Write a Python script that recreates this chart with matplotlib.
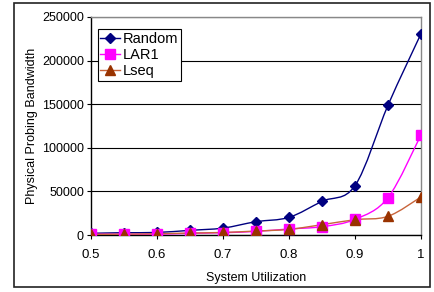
import numpy as np
import matplotlib.pyplot as plt
from matplotlib.path import Path
from matplotlib.patches import PathPatch, Rectangle

plt.rcParams['font.family'] = ['Liberation Sans', 'DejaVu Sans']

# data
utilization = [0.5, 0.55, 0.6, 0.65, 0.7, 0.75, 0.8, 0.85, 0.9, 0.95, 1.0]
random_bw = [2000, 2700, 3000, 5400, 8000, 15300, 20300, 38700, 56700, 149000, 231000]
lar1_bw = [1000, 1000, 1000, 2000, 2700, 4200, 7000, 9600, 18000, 43000, 115000]
lseq_bw = [800, 1000, 1500, 2300, 3000, 4600, 6500, 11900, 17600, 21500, 43700]

series = [
    ("Random", random_bw, "#000080", "#000080", "D", 5),
    ("LAR1", lar1_bw, "#FF00FF", "#FF00FF", "s", 6.5),
    ("Lseq", lseq_bw, "#993300", "#C8643A", "^", 6.5),
]


def smooth_path(x, y):
    # excel-style smoothed line drawn as bezier segments
    x = np.asarray(x, float)
    y = np.asarray(y, float)
    verts = [(x[0], y[0])]
    codes = [Path.MOVETO]
    n = len(x)
    for i in range(n - 1):
        p0 = (x[max(i - 1, 0)], y[max(i - 1, 0)])
        p1 = (x[i], y[i])
        p2 = (x[i + 1], y[i + 1])
        p3 = (x[min(i + 2, n - 1)], y[min(i + 2, n - 1)])
        c1 = (p1[0] + (p2[0] - p0[0]) / 6, p1[1] + (p2[1] - p0[1]) / 6)
        c2 = (p2[0] - (p3[0] - p1[0]) / 6, p2[1] - (p3[1] - p1[1]) / 6)
        verts += [c1, c2, p2]
        codes += [Path.CURVE4] * 3
    return Path(verts, codes)


fig = plt.figure(figsize=(4.35, 2.92), dpi=100)
ax = fig.add_axes([0.209, 0.195, 0.759, 0.747])

for label, vals, mcol, lcol, mk, ms in series:
    ax.add_patch(PathPatch(smooth_path(utilization, vals), facecolor="none",
                           edgecolor=lcol, lw=1.0, zorder=3))
    ax.plot(utilization, vals, linestyle="none", marker=mk, color=mcol,
            markersize=ms, zorder=4)
    ax.plot([], [], color=lcol, marker=mk, markerfacecolor=mcol,
            markeredgecolor=mcol, markersize=ms, lw=1.0, label=label)

ax.set_xlim(0.5, 1.0)
ax.set_ylim(0, 250000)
ax.set_xticks([0.5, 0.6, 0.7, 0.8, 0.9, 1.0])
ax.set_xticklabels(["0.5", "0.6", "0.7", "0.8", "0.9", "1"])
ax.set_yticks(range(0, 250001, 50000))
ax.yaxis.grid(True, color="black", lw=0.8)
ax.set_axisbelow(True)

for s in ["top", "right"]:
    ax.spines[s].set_color("#888888")
    ax.spines[s].set_linewidth(1.0)
ax.spines["left"].set_linewidth(1.0)
ax.spines["bottom"].set_linewidth(1.0)
ax.tick_params(axis="y", length=3, width=0.8, labelsize=9, pad=2)
ax.tick_params(axis="x", length=3, width=0.8, labelsize=9.5, pad=7)

ax.set_xlabel("System Utilization", fontsize=9, labelpad=8)
ax.set_ylabel("Physical Probing Bandwidth", fontsize=9, labelpad=3)

leg = ax.legend(loc="upper left", bbox_to_anchor=(0.02, 0.945), fontsize=10.5,
                frameon=True, fancybox=False, framealpha=1, edgecolor="black",
                borderpad=0.2, labelspacing=0.15, handlelength=1.35,
                handletextpad=0.2, borderaxespad=0)
leg.get_frame().set_linewidth(0.8)

fig.patches.append(Rectangle((14 / 435, 1 - 287 / 292), 416 / 435, 284 / 292,
                             transform=fig.transFigure, fill=False,
                             edgecolor="#222222", lw=1.2))

fig.savefig("out.png", dpi=100)
